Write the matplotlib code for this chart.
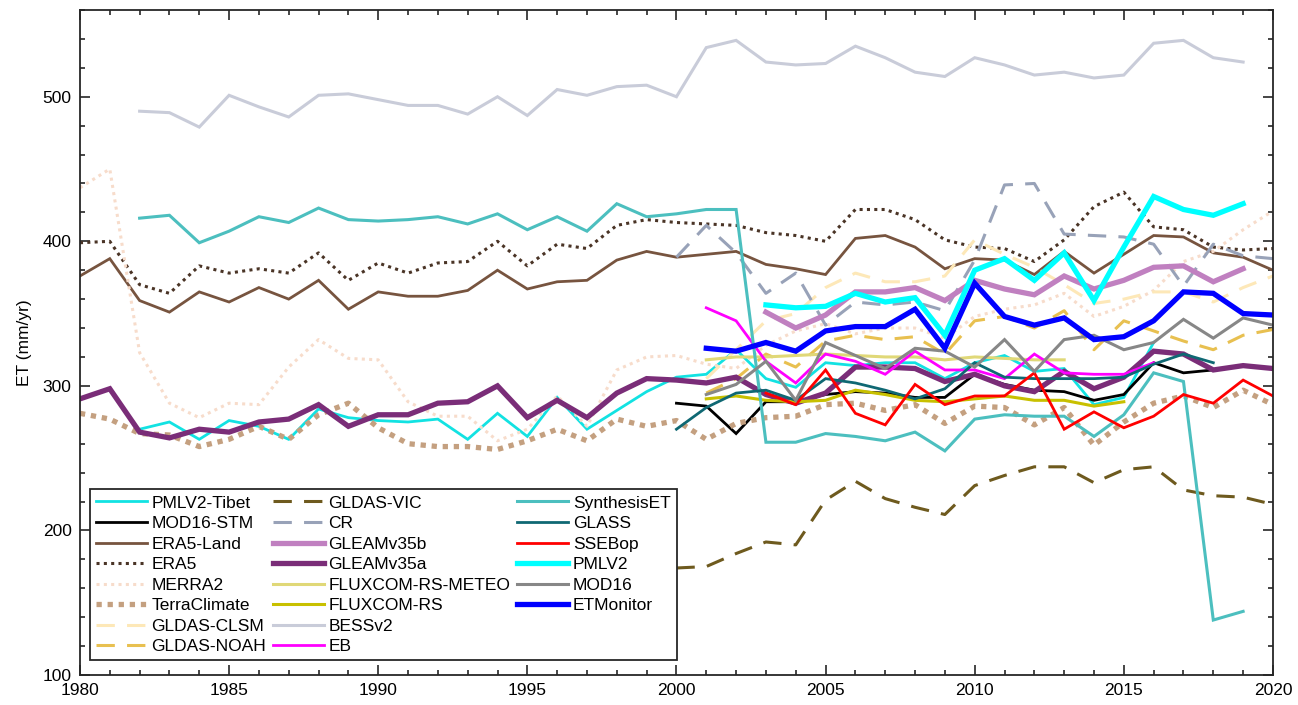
import numpy as np
import matplotlib
matplotlib.use('Agg')
import matplotlib.pyplot as plt
from matplotlib.ticker import MultipleLocator
from matplotlib.lines import Line2D

plt.rcParams['font.family'] = ['Liberation Sans', 'DejaVu Sans']

# ET series (mm/yr); first year given for each
pmlv2_tibet_start = 1982
pmlv2_tibet = [270, 275, 263, 276, 272, 263, 284, 278,
               276, 275, 277, 263, 281, 265, 292, 270, 283, 296,
               306, 308, 325, 305, 299, 316, 314, 316, 316, 305,
               316, 321, 310, 312, 287, 292, 330]
mod16_stm_start = 2000
mod16_stm = [288, 286, 267, 289, 289, 294, 296, 295, 292, 292,
             308, 301, 297, 296, 290, 294, 316, 309, 311]
era5_land_start = 1980
era5_land = [376, 388, 359, 351, 365, 358, 368, 360, 373, 353,
             365, 362, 362, 366, 380, 367, 372, 373, 387, 393,
             389, 391, 393, 384, 381, 377, 402, 404, 396, 381,
             388, 387, 377, 393, 378, 391, 404, 403, 392, 389, 380]
era5_start = 1980
era5 = [399, 400, 370, 364, 383, 378, 381, 378, 392, 373,
        385, 378, 385, 386, 400, 383, 398, 395, 411, 415,
        413, 412, 411, 406, 404, 400, 422, 422, 415, 401,
        396, 395, 386, 401, 424, 434, 410, 408, 396, 394, 395]
merra2_start = 1980
merra2 = [437, 450, 323, 288, 278, 288, 287, 313, 332, 319,
          318, 289, 279, 279, 262, 270, 293, 272, 311, 320,
          321, 315, 312, 328, 338, 343, 336, 340, 340, 333,
          348, 353, 356, 364, 348, 355, 366, 386, 393, 408, 421]
terraclimate_start = 1980
terraclimate = [281, 277, 267, 266, 258, 263, 272, 263, 280, 288,
                271, 260, 258, 258, 256, 262, 270, 262, 277, 272,
                276, 263, 274, 278, 279, 287, 288, 283, 287, 274,
                286, 285, 273, 285, 259, 275, 288, 293, 285, 297, 287]
gldas_clsm_start = 2001
gldas_clsm = [305, 325, 345, 350, 368, 378, 372, 372, 376, 401,
              391, 382, 370, 357, 360, 365, 365, 358, 368, 376]
gldas_noah_start = 2001
gldas_noah = [295, 305, 322, 313, 331, 335, 332, 334, 322, 345,
              348, 340, 352, 325, 345, 338, 331, 325, 335, 339]
gldas_vic_start = 2000
gldas_vic = [174, 175, 184, 192, 190, 221, 234, 222, 216, 211,
             231, 238, 244, 244, 233, 242, 244, 228, 224, 223, 218]
cr_start = 2000
cr = [389, 411, 392, 364, 378, 342, 358, 356, 358, 352,
      387, 439, 440, 405, 404, 403, 398, 369, 398, 390, 388]
gleam_b_start = 2003
gleam_b = [351, 340, 349, 365, 365, 368, 359, 373, 367, 363,
           376, 367, 373, 382, 383, 372, 381]
gleam_a_start = 1980
gleam_a = [291, 298, 268, 264, 270, 268, 275, 277, 287, 272,
           280, 280, 288, 289, 300, 278, 290, 278, 295, 305,
           304, 302, 306, 294, 288, 295, 313, 313, 312, 303,
           308, 300, 296, 310, 298, 306, 324, 322, 311, 314, 312]
fluxcom_meteo_start = 2001
fluxcom_meteo = [318, 320, 320, 321, 322, 321, 320, 320, 318, 320,
                 319, 318, 318]
fluxcom_rs_start = 2001
fluxcom_rs = [291, 293, 290, 289, 290, 297, 294, 290, 289, 291,
              293, 290, 290, 286, 289]
bess_start = 1982
bess = [490, 489, 479, 501, 493, 486, 501, 502,
        498, 494, 494, 488, 500, 487, 505, 501, 507, 508,
        500, 534, 539, 524, 522, 523, 535, 527, 517, 514,
        527, 522, 515, 517, 513, 515, 537, 539, 527, 524]
eb_start = 2001
eb = [354, 345, 317, 302, 322, 317, 308, 324, 311,
      311, 305, 322, 309, 308, 308, 316]
synthesis_start = 1982
synthesis = [416, 418, 399, 407, 417, 413, 423, 415,
             414, 415, 417, 412, 419, 408, 417, 407, 426, 417,
             419, 422, 422, 261, 261, 267, 265, 262, 268, 255,
             277, 280, 279, 279, 265, 280, 309, 303, 138, 144]
glass_start = 2000
glass = [270, 285, 295, 297, 290, 305, 302, 297, 291, 298,
         316, 306, 305, 305, 305, 306, 315, 322, 316]
ssebop_start = 2003
ssebop = [295, 287, 311, 281, 273, 301, 287,
          293, 293, 309, 270, 282, 271, 279, 294, 288, 304, 293]
pmlv2_start = 2003
pmlv2 = [356, 354, 355, 364, 358, 361, 335,
         380, 388, 373, 392, 359, 396, 431, 422, 418, 426]
mod16_start = 2001
mod16 = [294, 301, 317, 290, 330, 321, 312, 326, 324,
         313, 332, 310, 332, 335, 325, 330, 346, 333, 347, 342]
etmonitor_start = 2001
etmonitor = [326, 324, 330, 324, 338, 341, 341, 353, 326,
             371, 348, 342, 347, 332, 334, 345, 365, 364, 350, 349]

# label, start, values, colour, width, style
series = [
    ('PMLV2-Tibet', pmlv2_tibet_start, pmlv2_tibet, '#12e2e2', 2.0, '-'),
    ('MOD16-STM', mod16_stm_start, mod16_stm, '#000000', 2.0, '-'),
    ('ERA5-Land', era5_land_start, era5_land, '#77543f', 2.0, '-'),
    ('ERA5', era5_start, era5, '#4a3426', 2.2, (0, (1, 1.4))),
    ('MERRA2', merra2_start, merra2, '#f7dccb', 2.2, (0, (1, 1.4))),
    ('TerraClimate', terraclimate_start, terraclimate, '#c4a080', 3.8, (0, (1, 1.1))),
    ('GLDAS-CLSM', gldas_clsm_start, gldas_clsm, '#fde8b8', 2.2, (0, (6, 4))),
    ('GLDAS-NOAH', gldas_noah_start, gldas_noah, '#e8c050', 2.2, (0, (6, 4))),
    ('GLDAS-VIC', gldas_vic_start, gldas_vic, '#6e5a1e', 2.2, (0, (6, 4))),
    ('CR', cr_start, cr, '#98a2b8', 2.2, (0, (6, 4))),
    ('GLEAMv35b', gleam_b_start, gleam_b, '#c080c0', 3.8, '-'),
    ('GLEAMv35a', gleam_a_start, gleam_a, '#7a2d78', 3.8, '-'),
    ('FLUXCOM-RS-METEO', fluxcom_meteo_start, fluxcom_meteo, '#e0d878', 2.2, '-'),
    ('FLUXCOM-RS', fluxcom_rs_start, fluxcom_rs, '#c8c000', 2.2, '-'),
    ('BESSv2', bess_start, bess, '#c9ccd9', 2.2, '-'),
    ('EB', eb_start, eb, '#ff00ff', 2.0, '-'),
    ('SynthesisET', synthesis_start, synthesis, '#4cbfbf', 2.2, '-'),
    ('GLASS', glass_start, glass, '#0f6873', 2.0, '-'),
    ('SSEBop', ssebop_start, ssebop, '#ff0000', 2.0, '-'),
    ('PMLV2', pmlv2_start, pmlv2, '#00ffff', 3.8, '-'),
    ('MOD16', mod16_start, mod16, '#878787', 2.2, '-'),
    ('ETMonitor', etmonitor_start, etmonitor, '#0000ff', 3.8, '-'),
]

fig = plt.figure(figsize=(12.98, 7.05), dpi=100)
ax = fig.add_axes([0.0616, 0.0426, 0.9191, 0.9432])

handles = []
for name, start, vals, col, lw, ls in series:
    yrs = np.arange(start, start + len(vals))
    h, = ax.plot(yrs, vals, color=col, lw=lw, ls=ls, label=name,
                 solid_joinstyle='miter', dash_capstyle='butt')
    handles.append(h)

# blank entry so the legend columns hold 8/8/6 like the original
blank = Line2D([], [], color='none', label='')
handles.append(blank)

ax.set_xlim(1980, 2020)
ax.set_ylim(100, 560)
ax.xaxis.set_major_locator(MultipleLocator(5))
ax.xaxis.set_minor_locator(MultipleLocator(1))
ax.yaxis.set_major_locator(MultipleLocator(100))
ax.yaxis.set_minor_locator(MultipleLocator(20))
ax.tick_params(which='both', direction='in', top=True, right=True,
               colors='#262626', labelcolor='black', labelsize=12.5, width=1.2)
ax.tick_params(which='major', length=7.5, pad=6)
ax.tick_params(which='minor', length=3.8)
for s in ax.spines.values():
    s.set_linewidth(1.3)
    s.set_color('#262626')
ax.set_ylabel('ET (mm/yr)', fontsize=12.5, labelpad=8)

leg = ax.legend(handles=handles, labels=[h.get_label() for h in handles],
                ncol=3, loc='lower left', bbox_to_anchor=(0.008, 0.022),
                fontsize=12.5, handlelength=2.95, handletextpad=0.25,
                columnspacing=0.4, labelspacing=0.31, borderpad=0.35,
                fancybox=False, framealpha=1, borderaxespad=0)
leg.get_frame().set_edgecolor('#262626')
leg.get_frame().set_linewidth(1.3)

fig.savefig('out.png', dpi=100)
